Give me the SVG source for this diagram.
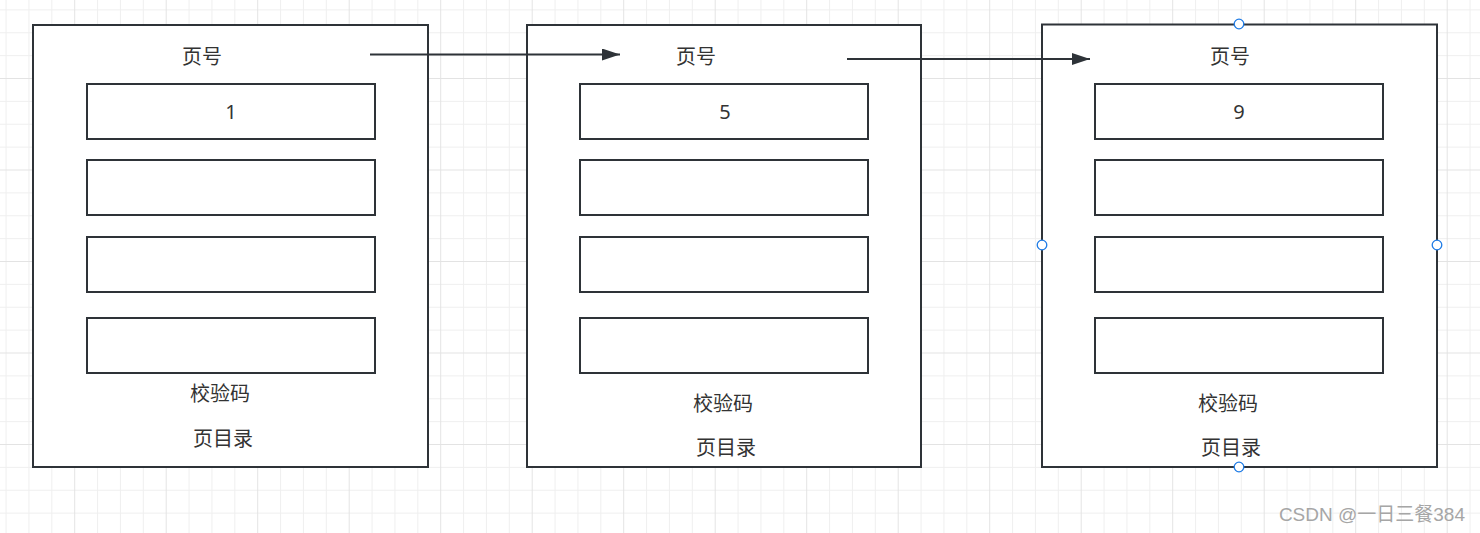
<svg xmlns="http://www.w3.org/2000/svg" width="1480" height="533" viewBox="0 0 1480 533">
  <style>
    .outer { fill: #ffffff; stroke: #2e3338; stroke-width: 2; }
    .cell { fill: #ffffff; stroke: #2e3338; stroke-width: 2; }
    .cjk { font-family: "Noto Sans CJK SC", "Noto Sans", sans-serif; font-size: 20px; fill: #333333; text-anchor: middle; }
    .num { font-family: "Noto Sans", "Liberation Sans", sans-serif; font-size: 20px; fill: #333333; text-anchor: middle; }
    .conn { stroke: #2e3338; stroke-width: 2; fill: none; }
    .handle { fill: #ffffff; stroke: #1e7be6; stroke-width: 1.3; }
    .wm { font-family: "Liberation Sans", "Noto Sans CJK SC", sans-serif; font-size: 19px; fill: #a6a6a6; text-anchor: end; }
  </style>
  <defs>
    <pattern id="grid" patternUnits="userSpaceOnUse" x="74.2" y="78" width="91.5" height="91.5">
      <rect x="22.875" y="0" width="1" height="91.5" fill="#efefef"/>
      <rect x="45.75" y="0" width="1" height="91.5" fill="#efefef"/>
      <rect x="68.625" y="0" width="1" height="91.5" fill="#efefef"/>
      <rect x="0" y="22.875" width="91.5" height="1" fill="#efefef"/>
      <rect x="0" y="45.75" width="91.5" height="1" fill="#efefef"/>
      <rect x="0" y="68.625" width="91.5" height="1" fill="#efefef"/>
      <rect x="0" y="0" width="1" height="91.5" fill="#e3e3e3"/>
      <rect x="0" y="0" width="91.5" height="1" fill="#e3e3e3"/>
    </pattern>
    <marker id="arrow" markerUnits="userSpaceOnUse" markerWidth="20" markerHeight="14" refX="19" refY="6" orient="auto">
      <path d="M1,0 L19,6 L1,12 Z" fill="#2e3338"/>
    </marker>
  </defs>
  <rect x="0" y="0" width="1480" height="533" fill="#ffffff"/>
  <rect x="0" y="0" width="1480" height="533" fill="url(#grid)"/>

  <g id="page1">
    <rect class="outer" x="33" y="25" width="395" height="442"/>
    <text class="cjk" x="202" y="64">页号</text>
    <rect class="cell" x="87" y="84" width="288" height="55"/>
    <text class="num" x="231" y="119">1</text>
    <rect class="cell" x="87" y="160" width="288" height="55"/>
    <rect class="cell" x="87" y="237" width="288" height="55"/>
    <rect class="cell" x="87" y="318" width="288" height="55"/>
    <text class="cjk" x="220" y="401">校验码</text>
    <text class="cjk" x="223" y="446">页目录</text>
  </g>

  <g id="page2">
    <rect class="outer" x="527" y="25" width="394" height="442"/>
    <text class="cjk" x="696" y="64">页号</text>
    <rect class="cell" x="580" y="84" width="288" height="55"/>
    <text class="num" x="725" y="119">5</text>
    <rect class="cell" x="580" y="160" width="288" height="55"/>
    <rect class="cell" x="580" y="237" width="288" height="55"/>
    <rect class="cell" x="580" y="318" width="288" height="55"/>
    <text class="cjk" x="723" y="411">校验码</text>
    <text class="cjk" x="726" y="455">页目录</text>
  </g>

  <g id="page3">
    <rect class="outer" x="1042" y="24.5" width="395" height="442.5"/>
    <text class="cjk" x="1230" y="64">页号</text>
    <rect class="cell" x="1095" y="84" width="288" height="55"/>
    <text class="num" x="1239" y="119">9</text>
    <rect class="cell" x="1095" y="160" width="288" height="55"/>
    <rect class="cell" x="1095" y="237" width="288" height="55"/>
    <rect class="cell" x="1095" y="318" width="288" height="55"/>
    <text class="cjk" x="1228" y="411">校验码</text>
    <text class="cjk" x="1231" y="455">页目录</text>
    <circle class="handle" cx="1239" cy="24" r="4.8"/>
    <circle class="handle" cx="1042" cy="245" r="4.8"/>
    <circle class="handle" cx="1437" cy="245" r="4.8"/>
    <circle class="handle" cx="1239" cy="467" r="4.8"/>
  </g>

  <g id="connectors">
    <line class="conn" x1="370" y1="54.5" x2="620" y2="54.5" marker-end="url(#arrow)"/>
    <line class="conn" x1="847" y1="59" x2="1090" y2="59" marker-end="url(#arrow)"/>
  </g>

  <text class="wm" x="1465" y="521">CSDN @一日三餐384</text>
</svg>
